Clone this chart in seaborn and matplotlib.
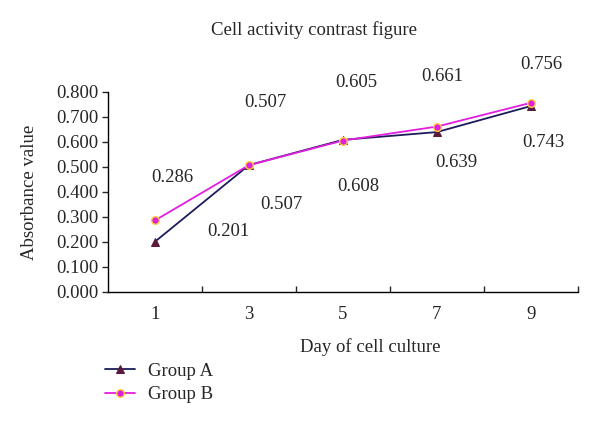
import numpy as np
import pandas as pd
import matplotlib
matplotlib.use("Agg")
import matplotlib.pyplot as plt
import seaborn as sns

# Data
days = ["1", "3", "5", "7", "9"]
group_a = [0.201, 0.507, 0.608, 0.639, 0.743]
group_b = [0.286, 0.507, 0.605, 0.661, 0.756]

# Label positions (category units, data units) as placed in the original
label_pos_a = [(0.78, 0.24), (1.34, 0.35), (2.16, 0.42), (3.21, 0.516), (4.13, 0.596)]
label_pos_b = [(0.18, 0.456), (1.17, 0.756), (2.14, 0.836), (3.06, 0.86), (4.11, 0.908)]

sns.set_style("ticks")
plt.rcParams["font.family"] = ["Liberation Serif", "DejaVu Serif"]

df = pd.DataFrame({"day": days, "Group A": group_a, "Group B": group_b})

fig = plt.figure(figsize=(6, 4.25), dpi=100)
ax = fig.add_axes([0.18, 0.313, 0.783, 0.471])

sns.lineplot(data=df, x="day", y="Group A", ax=ax, color="#1c1c5a", lw=1.3,
             marker="^", markersize=6, markerfacecolor="#5a1a3c",
             markeredgecolor="#5a1a3c", label="Group A")
sns.lineplot(data=df, x="day", y="Group B", ax=ax, color="#e21ee0", lw=1.3,
             marker="o", markersize=5.5, markerfacecolor="#e21ee0",
             markeredgecolor="#ffd23c", markeredgewidth=1.0, label="Group B")

# value labels
for (x, y), v in zip(label_pos_a, group_a):
    ax.text(x, y, f"{v:.3f}", ha="center", va="center", fontsize=13.5, clip_on=False)
for (x, y), v in zip(label_pos_b, group_b):
    ax.text(x, y, f"{v:.3f}", ha="center", va="center", fontsize=13.5, clip_on=False)

ax.set_xlim(-0.5, 4.5)
ax.set_ylim(0, 0.8)
ax.set_yticks(np.arange(0, 0.81, 0.1))
ax.set_yticklabels([f"{t:.3f}" for t in np.arange(0, 0.81, 0.1)], fontsize=13.5)
ax.set_xticks(range(len(days)))
ax.set_xticklabels(days, fontsize=13.5)
ax.tick_params(axis="x", which="major", length=0, pad=10)
ax.set_xticks(np.arange(0.5, 5.0, 1.0), minor=True)
ax.tick_params(axis="x", which="minor", direction="in", length=4, width=1)
ax.tick_params(axis="y", direction="out", length=4, width=1, pad=3)
for s in ["top", "right"]:
    ax.spines[s].set_visible(False)
for s in ["left", "bottom"]:
    ax.spines[s].set_linewidth(1)
    ax.spines[s].set_color("black")
ax.set_xlabel("")
ax.set_ylabel("")

fig.text(0.523, 1 - 30 / 425, "Cell activity contrast figure", ha="center", va="center", fontsize=13.5)
fig.text(0.617, 1 - 347 / 425, "Day of cell culture", ha="center", va="center", fontsize=13.5)
fig.text(0.05, 1 - 192 / 425, "Absorbance value", ha="center", va="center",
         rotation=90, fontsize=13.5)

ax.get_legend().remove()
handles, labels = ax.get_legend_handles_labels()
fig.legend(handles, labels, loc="upper left", bbox_to_anchor=(0.163, 1 - 355 / 425),
           frameon=False, fontsize=13.5, handlelength=1.6, handletextpad=0.7,
           labelspacing=0.35, borderaxespad=0)

fig.savefig("out.png", dpi=100)
